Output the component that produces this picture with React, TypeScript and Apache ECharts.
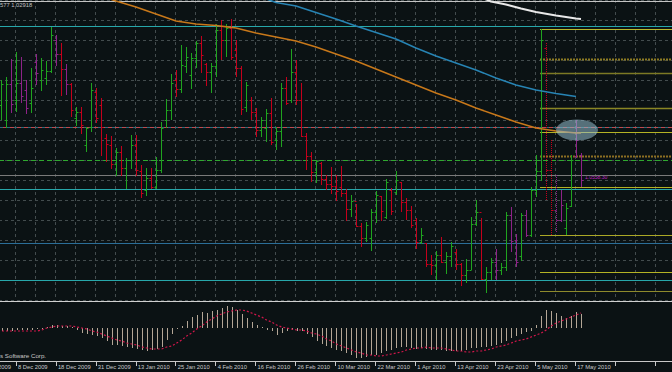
import React, { useEffect, useRef } from "react";
import * as echarts from "echarts";

// ---------- data ----------
const dateLabels = [
  "26 Nov 2009", "8 Dec 2009", "18 Dec 2009", "31 Dec 2009", "13 Jan 2010", "25 Jan 2010",
  "4 Feb 2010", "16 Feb 2010", "26 Feb 2010", "10 Mar 2010", "22 Mar 2010", "1 Apr 2010",
  "13 Apr 2010", "23 Apr 2010", "5 May 2010", "17 May 2010",
];

const barOpen = [
  1.0485, 1.0440, 1.0548, 1.0500, 1.0551, 1.0530, 1.0491, 1.0614, 1.0560, 1.0566,
  1.0587, 1.0680, 1.0638, 1.0593, 1.0548, 1.0446, 1.0464, 1.0365, 1.0419, 1.0524,
  1.0485, 1.0386, 1.0365, 1.0308, 1.0344, 1.0296, 1.0320, 1.0365, 1.0287, 1.0230,
  1.0266, 1.0239, 1.0290, 1.0440, 1.0470, 1.0560, 1.0533, 1.0602, 1.0575, 1.0626,
  1.0671, 1.0608, 1.0584, 1.0602, 1.0710, 1.0680, 1.0716, 1.0650, 1.0596, 1.0479,
  1.0500, 1.0464, 1.0410, 1.0416, 1.0461, 1.0380, 1.0407, 1.0536, 1.0500, 1.0584,
  1.0500, 1.0392, 1.0332, 1.0284, 1.0311, 1.0263, 1.0248, 1.0242, 1.0239, 1.0221,
  1.0173, 1.0197, 1.0122, 1.0086, 1.0086, 1.0164, 1.0212, 1.0149, 1.0230, 1.0224,
  1.0254, 1.0194, 1.0170, 1.0140, 1.0074, 1.0071, 1.0008, 1.0005, 1.0035, 1.0014,
  1.0032, 1.0044, 1.0008, 0.9975, 0.9990, 1.0128, 1.0164, 0.9963, 0.9984, 1.0014,
  0.9990, 0.9999, 1.0155, 1.0080, 1.0032, 1.0155, 1.0095, 1.0230, 1.0287, 1.0656,
  1.0290, 1.0170, 1.0140, 1.0116, 1.0182, 1.0332, 1.0335,
];
const barHigh = [
  1.0560, 1.0569, 1.0623, 1.0644, 1.0629, 1.0560, 1.0596, 1.0638, 1.0626, 1.0617,
  1.0719, 1.0695, 1.0671, 1.0608, 1.0551, 1.0479, 1.0479, 1.0419, 1.0551, 1.0536,
  1.0506, 1.0398, 1.0392, 1.0356, 1.0362, 1.0326, 1.0395, 1.0395, 1.0305, 1.0296,
  1.0296, 1.0329, 1.0434, 1.0503, 1.0578, 1.0590, 1.0665, 1.0659, 1.0641, 1.0677,
  1.0692, 1.0611, 1.0611, 1.0728, 1.0740, 1.0728, 1.0743, 1.0680, 1.0602, 1.0554,
  1.0509, 1.0476, 1.0449, 1.0473, 1.0506, 1.0419, 1.0551, 1.0569, 1.0653, 1.0620,
  1.0551, 1.0401, 1.0344, 1.0320, 1.0314, 1.0275, 1.0299, 1.0275, 1.0302, 1.0233,
  1.0215, 1.0188, 1.0131, 1.0134, 1.0173, 1.0227, 1.0212, 1.0263, 1.0236, 1.0287,
  1.0254, 1.0206, 1.0182, 1.0146, 1.0116, 1.0071, 1.0035, 1.0047, 1.0089, 1.0044,
  1.0074, 1.0053, 1.0011, 1.0023, 1.0149, 1.0200, 1.0146, 0.9999, 1.0026, 1.0053,
  1.0011, 1.0164, 1.0179, 1.0098, 1.0161, 1.0170, 1.0239, 1.0335, 1.0713, 1.0671,
  1.0380, 1.0275, 1.0230, 1.0191, 1.0335, 1.0440, 1.0341,
];
const barLow = [
  1.0440, 1.0416, 1.0461, 1.0464, 1.0491, 1.0458, 1.0461, 1.0545, 1.0527, 1.0545,
  1.0581, 1.0602, 1.0512, 1.0515, 1.0449, 1.0422, 1.0398, 1.0344, 1.0404, 1.0431,
  1.0332, 1.0314, 1.0293, 1.0272, 1.0272, 1.0233, 1.0293, 1.0272, 1.0206, 1.0212,
  1.0233, 1.0233, 1.0281, 1.0416, 1.0440, 1.0509, 1.0521, 1.0581, 1.0533, 1.0596,
  1.0581, 1.0542, 1.0521, 1.0569, 1.0620, 1.0629, 1.0620, 1.0569, 1.0455, 1.0464,
  1.0440, 1.0389, 1.0389, 1.0374, 1.0365, 1.0350, 1.0359, 1.0485, 1.0491, 1.0485,
  1.0389, 1.0290, 1.0254, 1.0251, 1.0245, 1.0230, 1.0218, 1.0197, 1.0209, 1.0137,
  1.0149, 1.0119, 1.0059, 1.0074, 1.0047, 1.0131, 1.0137, 1.0143, 1.0155, 1.0215,
  1.0164, 1.0140, 1.0116, 1.0053, 1.0068, 0.9999, 0.9975, 0.9960, 1.0011, 0.9978,
  0.9999, 0.9990, 0.9942, 0.9951, 0.9990, 1.0122, 0.9960, 0.9921, 0.9960, 0.9960,
  0.9975, 0.9987, 1.0044, 0.9999, 1.0017, 1.0089, 1.0089, 1.0209, 1.0257, 1.0200,
  1.0095, 1.0104, 1.0134, 1.0095, 1.0179, 1.0326, 1.0239,
];
const barClose = [
  1.0548, 1.0548, 1.0488, 1.0551, 1.0512, 1.0476, 1.0536, 1.0581, 1.0590, 1.0587,
  1.0695, 1.0638, 1.0593, 1.0548, 1.0470, 1.0464, 1.0425, 1.0416, 1.0530, 1.0446,
  1.0419, 1.0368, 1.0308, 1.0344, 1.0296, 1.0320, 1.0365, 1.0290, 1.0221, 1.0266,
  1.0239, 1.0290, 1.0416, 1.0470, 1.0551, 1.0533, 1.0605, 1.0629, 1.0626, 1.0671,
  1.0635, 1.0584, 1.0602, 1.0710, 1.0680, 1.0716, 1.0629, 1.0596, 1.0473, 1.0545,
  1.0464, 1.0410, 1.0440, 1.0461, 1.0374, 1.0407, 1.0536, 1.0491, 1.0584, 1.0500,
  1.0392, 1.0332, 1.0284, 1.0317, 1.0263, 1.0248, 1.0242, 1.0227, 1.0221, 1.0173,
  1.0197, 1.0122, 1.0086, 1.0125, 1.0164, 1.0215, 1.0167, 1.0254, 1.0167, 1.0260,
  1.0194, 1.0170, 1.0125, 1.0074, 1.0095, 1.0008, 1.0005, 1.0035, 1.0014, 1.0032,
  1.0062, 1.0008, 0.9975, 0.9990, 1.0128, 1.0164, 0.9963, 0.9984, 1.0014, 0.9990,
  0.9999, 1.0155, 1.0077, 1.0014, 1.0155, 1.0095, 1.0230, 1.0287, 1.0680, 1.0290,
  1.0170, 1.0140, 1.0185, 1.0176, 1.0320, 1.0380, 1.0260,
];
// g = up (green), r = down (red), m = highlighted (magenta)
const barKind = (
  "ggmgmmgmgg" + "gmrmrgrggr" + "rrrgrggrrg" + "rggggrgggg" + "rrggrgrrrg" +
  "rrggrggrgr" + "rrrgrrrrrr" + "grrgggrgrg" + "rrrrgrrgrg" + "grrgggrggm" +
  "ggmmgmgggr" + "rmmggmm"
).split("");
const dottedBars = [109, 110, 111];

// moving averages: [bar index, price]
const maOrange = [
  [20, 1.0812], [23, 1.0797], [27, 1.0779], [31, 1.0758], [35, 1.0737], [39, 1.0728],
  [43, 1.07235], [47, 1.0716], [51, 1.0701], [55, 1.0689], [59, 1.0677], [63, 1.0659],
  [67, 1.0638], [71, 1.0617], [75, 1.0593], [79, 1.0569], [83, 1.0545], [87, 1.0521],
  [91, 1.05], [95, 1.0476], [99, 1.0455], [103, 1.0434], [107, 1.0416], [111, 1.0407],
  [115, 1.0401], [116, 1.0401],
];
const maBlue = [
  [52, 1.0809], [55, 1.07925], [59, 1.0782], [63, 1.07625], [67, 1.0743], [71, 1.0722],
  [75, 1.07025], [79, 1.0683], [83, 1.0656], [87, 1.0632], [91, 1.0611], [95, 1.059],
  [99, 1.0566], [103, 1.0545], [107, 1.053], [111, 1.05195], [115, 1.05105],
];
const maWhite = [
  [96, 1.0809], [98, 1.07955], [101, 1.07865], [104, 1.07745], [107, 1.0764],
  [111, 1.07535], [115, 1.07445], [116, 1.0743],
];

// horizontal price levels (full width)
const levelPrices = [1.07955, 1.07205, 1.04175, 1.04175, 1.03185, 1.02735, 1.02315, 1.00695, 0.99585];
// fibonacci levels, drawn from the 5 May bar to the right edge
const fibStartBar = 107.8;
const fibPrices = [1.07115, 1.06215, 1.05795, 1.04745, 1.04025, 1.03305, 1.02375, 1.00935, 0.99825, 0.99255];

// MACD histogram and signal (per bar)
const macdHist = [
  -3, -3, -3, -2, -2, -2, -2, -1, -1, 1, 3, 3, 2, 2, 1, -2,
  -5, -6, -7, -8, -10, -13, -17, -17, -18, -19, -20, -21, -22, -23, -22, -21, -19, -12, -6, -1, 2, 7, 11, 13, 16, 15, 17, 18, 20,
  22, 21, 18, 14, 10, 6, 3, 1, -2, -3, -7, -5, -3, -2, -3, -3, -6, -9, -13, -16, -18, -20, -22, -23, -25, -27, -30, -30, -29, -27,
  -27, -25, -23, -22, -20, -19, -19, -20, -21, -20, -21, -22, -22, -22, -23,
  -23, -23, -23, -22, -20, -20, -19, -19, -18, -17, -15, -13, -10, -8, -6, -4, -3, 3, 12, 18, 17, 15, 12, 10, 12, 16, 14,
].map((v) => v / 10000);
const macdSignal = [
  -3, -3, -3, -3, -3, -3, -3, -3, -2, 0, 1, 2, 2, 2, 2, 1, 0, -1, -3, -4, -6, -8, -10, -12, -13, -15, -16, -17, -19, -20,
  -21, -21, -21, -19, -18, -15, -12, -8, -5, -1, 2, 6, 9, 12, 14,
  16, 17, 18, 18, 17, 15, 13, 11, 8, 6, 3, 1, 0, -1, -2, -2, -3, -5, -6, -8, -11, -13, -16, -18, -20,
  -22, -24, -25, -27, -27, -28, -28, -27, -26, -25, -24, -22, -21, -20, -20, -19, -20, -20, -20, -21,
  -22, -23, -23, -24, -24, -23, -23, -22, -21, -19, -18, -17, -15, -13, -12, -11, -9, -7, -5, -2, 2, 5, 7, 9, 11, 13, 15,
].map((v) => v / 10000);

// ---------- styles ----------
const BG = "#0b1214";
const GRID_COLOR = "#434c4e";
const SHIFT = 25; // chart canvas starts 25px left of the window so grid lines fall where MT4 drew them
const KIND_COLORS: Record<string, string> = { g: "#1fa41f", r: "#c4001c", m: "#8e2288" };
const levelStyles = [
  { color: "#c4c4c4", width: 1, type: "solid" },
  { color: "#27a7aa", width: 1, type: "solid" },
  { color: "#2a6f7c", width: 1, type: "solid" },
  { color: "#c0484e", width: 1, type: [4, 3] },
  { color: "#2fa82f", width: 1, type: [5, 3] },
  { color: "#7a7a7a", width: 1, type: "solid" },
  { color: "#27a7aa", width: 1, type: "solid" },
  { color: "#2b6e98", width: 1, type: "solid" },
  { color: "#27a7aa", width: 1, type: "solid" },
];
const fibStyles = [
  { color: "#b9b92c", width: 1, type: "solid" },
  { color: "#8c7a22", width: 2, type: [2, 1] },
  { color: "#7d7a24", width: 1.5, type: "solid" },
  { color: "#8a8624", width: 1.5, type: "solid" },
  { color: "#b5b324", width: 1, type: "solid" },
  { color: "#8c6e22", width: 2, type: [2, 1] },
  { color: "#b3b125", width: 1, type: "solid" },
  { color: "#aba826", width: 1, type: "solid" },
  { color: "#b5b324", width: 1, type: "solid" },
  { color: "#8e8a2c", width: 1, type: "solid" },
];

const X_MIN = -5.2;
const X_MAX = 134.2;

function buildOption() {
  const ohlcData = barOpen.map((o, i) => [
    i, o, barHigh[i], barLow[i], barClose[i],
    barKind[i] === "g" ? 0 : barKind[i] === "r" ? 1 : 2,
    dottedBars.includes(i) ? 1 : 0,
  ]);
  const kindList = [KIND_COLORS.g, KIND_COLORS.r, KIND_COLORS.m];

  const levelSeries = levelPrices.map((p, i) => ({
    type: "line",
    xAxisIndex: 0,
    yAxisIndex: 0,
    data: [[X_MIN, p], [X_MAX, p]],
    symbol: "none",
    silent: true,
    z: 1,
    lineStyle: levelStyles[i],
  }));
  const fibSeries = fibPrices.map((p, i) => ({
    type: "line",
    xAxisIndex: 0,
    yAxisIndex: 0,
    data: [[fibStartBar, p], [X_MAX, p]],
    symbol: "none",
    silent: true,
    z: 1,
    lineStyle: fibStyles[i],
  }));

  const maSeries = [
    { d: maOrange, c: "#c8781a", w: 1.5 },
    { d: maBlue, c: "#2784b4", w: 1.5 },
    { d: maWhite, c: "#e8e8e8", w: 2 },
  ].map((m) => ({
    type: "line",
    xAxisIndex: 0,
    yAxisIndex: 0,
    data: m.d,
    symbol: "none",
    silent: true,
    clip: true,
    z: 4,
    lineStyle: { color: m.c, width: m.w },
  }));

  return {
    animation: false,
    backgroundColor: BG,
    grid: [
      { left: 0, right: 0, top: 0, height: 300 },
      { left: 0, right: 0, top: 302, height: 59 },
    ],
    xAxis: [
      {
        type: "value", gridIndex: 0, min: X_MIN, max: X_MAX, interval: 4,
        axisLine: { show: false }, axisTick: { show: false }, axisLabel: { show: false },
        splitLine: { show: true, lineStyle: { color: GRID_COLOR, type: [3, 3], width: 1 } },
      },
      {
        type: "value", gridIndex: 1, min: X_MIN, max: X_MAX, interval: 8,
        axisLine: { show: true, onZero: false, lineStyle: { color: "#c8c8c8", width: 1 } },
        axisTick: { show: true, length: 5, lineStyle: { color: "#c8c8c8" } },
        splitLine: { show: false },
        axisLabel: {
          show: true, showMinLabel: true, showMaxLabel: false,
          color: "#c8c8c8", fontSize: 5.8, fontFamily: "Liberation Sans",
          align: "left", margin: 3, padding: [0, 0, 0, 2],
          formatter: (v: number) => {
            const n = Math.round((v - X_MIN) / 8);
            return dateLabels[n] ?? "";
          },
        },
      },
    ],
    yAxis: [
      {
        type: "value", gridIndex: 0, min: 0.99, max: 1.08, interval: 0.006,
        axisLine: { show: false }, axisTick: { show: false }, axisLabel: { show: false },
        splitLine: { show: true, lineStyle: { color: GRID_COLOR, type: [3, 3], width: 1 } },
      },
      {
        type: "value", gridIndex: 1, min: -0.0033, max: 0.0026,
        axisLine: { show: false }, axisTick: { show: false }, axisLabel: { show: false },
        splitLine: { show: false },
      },
    ],
    series: [
      ...levelSeries,
      ...fibSeries,
      {
        type: "custom",
        xAxisIndex: 0,
        yAxisIndex: 0,
        z: 3,
        clip: true,
        silent: true,
        encode: { x: 0, y: [1, 2, 3, 4] },
        data: ohlcData,
        renderItem: (params: any, api: any) => {
          const k = api.value(0);
          const ph = api.coord([k, api.value(2)]);
          const pl = api.coord([k, api.value(3)]);
          const po = api.coord([k, api.value(1)]);
          const pc = api.coord([k, api.value(4)]);
          const x = Math.round(ph[0]) + 0.5;
          const color = kindList[api.value(5)];
          const dotted = api.value(6) === 1;
          const style = { stroke: color, lineWidth: 1, lineDash: dotted ? [1, 1] : null };
          const yo = Math.round(po[1]) + 0.5;
          const yc = Math.round(pc[1]) + 0.5;
          return {
            type: "group",
            children: [
              { type: "line", shape: { x1: x, y1: Math.round(ph[1]), x2: x, y2: Math.round(pl[1]) }, style },
              { type: "line", shape: { x1: x - 2, y1: yo, x2: x, y2: yo }, style: { stroke: color, lineWidth: 1 } },
              { type: "line", shape: { x1: x, y1: yc, x2: x + 2, y2: yc }, style: { stroke: color, lineWidth: 1 } },
            ],
          };
        },
      },
      ...maSeries,
      {
        type: "custom",
        xAxisIndex: 1,
        yAxisIndex: 1,
        z: 2,
        silent: true,
        encode: { x: 0, y: 1 },
        data: macdHist.map((v, i) => [i, v]),
        renderItem: (params: any, api: any) => {
          const k = api.value(0);
          const p0 = api.coord([k, 0]);
          const p1 = api.coord([k, api.value(1)]);
          const x = Math.round(p0[0]) + 0.5;
          return {
            type: "line",
            shape: { x1: x, y1: Math.round(p0[1]), x2: x, y2: Math.round(p1[1]) },
            style: { stroke: "#b4a696", lineWidth: 1 },
          };
        },
      },
      {
        type: "line",
        xAxisIndex: 1,
        yAxisIndex: 1,
        data: macdSignal.map((v, i) => [i, v]),
        symbol: "none",
        silent: true,
        z: 3,
        lineStyle: { color: "#d0164a", width: 1.2, type: [2, 2] },
      },
    ],
    graphic: [
      {
        type: "ellipse",
        z: 10,
        shape: { cx: 577 + SHIFT, cy: 130, rx: 21, ry: 10.5 },
        style: { fill: "rgba(150,190,205,0.55)" },
        silent: true,
      },
      {
        type: "line",
        shape: { x1: 0, y1: 301.5, x2: 672 + SHIFT, y2: 301.5 },
        style: { stroke: "#d0d0d0", lineWidth: 1 },
        silent: true,
      },
      {
        type: "text",
        x: 0 + SHIFT, y: 2,
        style: { text: "577 1.02918", fill: "#c0c0c0", fontSize: 5.8, fontFamily: "Liberation Sans", verticalAlign: "top" },
        silent: true,
      },
      {
        type: "text",
        x: 0 + SHIFT, y: 352,
        style: { text: "s Software Corp.", fill: "#c8c8c8", fontSize: 6.2, fontFamily: "Liberation Sans", verticalAlign: "top" },
        silent: true,
      },
      {
        type: "text",
        x: 585 + SHIFT, y: 174,
        style: { text: "1.0558.30", fill: "#c020c0", fontSize: 5, fontFamily: "Liberation Sans", verticalAlign: "top" },
        silent: true,
      },
    ],
  };
}

export default function App() {
  const ref = useRef<HTMLDivElement>(null);
  useEffect(() => {
    if (!ref.current) return;
    const chart = echarts.init(ref.current, null, { renderer: "svg" });
    chart.setOption(buildOption() as any);
    return () => chart.dispose();
  }, []);
  return (
    <div
      ref={ref}
      style={{ position: "fixed", left: -SHIFT, top: 0, width: 672 + SHIFT, height: 372, background: BG }}
    />
  );
}
